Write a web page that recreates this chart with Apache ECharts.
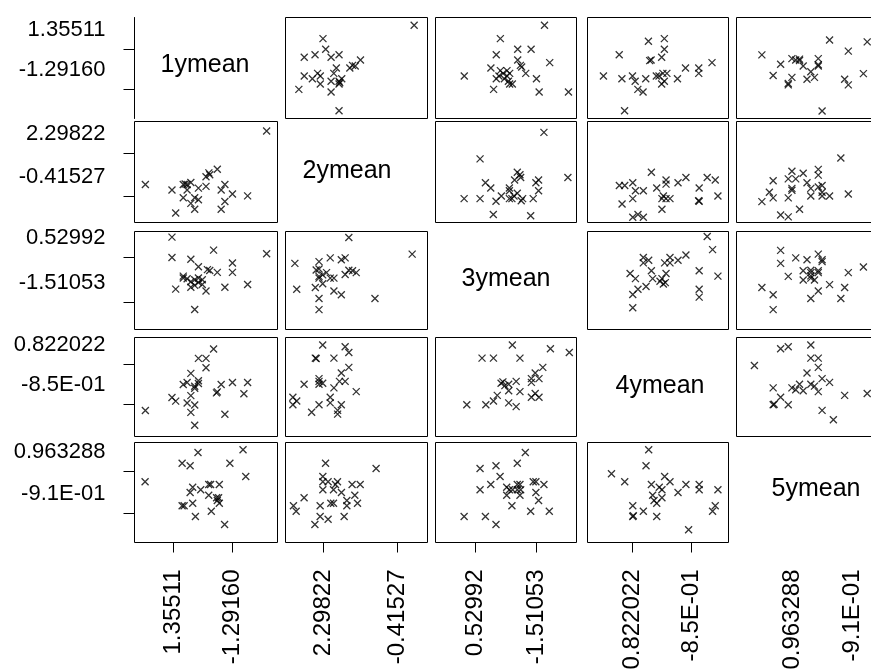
<!DOCTYPE html>
<html>
<head>
<meta charset="utf-8">
<title>Scatterplot matrix of 1ymean - 5ymean</title>
<script src="https://cdn.jsdelivr.net/npm/echarts@6/dist/echarts.min.js"></script>
<style>
  html, body { margin: 0; padding: 0; background: #ffffff; }
  #chart { width: 871px; height: 670px; }
</style>
</head>
<body>
<div id="chart"></div>
<script>
// Variables shown on the diagonal
const variables = ['1ymean', '2ymean', '3ymean', '4ymean', '5ymean'];

// Tick labels of each variable (first tick, second tick)
const tickLabels = [
  ['1.35511', '-1.29160'],
  ['2.29822', '-0.41527'],
  ['0.52992', '-1.51053'],
  ['0.822022', '-8.5E-01'],
  ['0.963288', '-9.1E-01']
];

// Tick values on each variable's axis scale (0-100), horizontal and vertical use
const xTickValues = [[27.3, 68.5], [26.8, 78.9], [28.2, 71.6], [31.9, 73.8], [39.7, 82.3]];
const yTickValues = [[68.3, 28.7], [68.3, 25.7], [73.5, 27.6], [72.7, 32.3], [71.0, 29.0]];

// Paired observations: [value of lower-numbered variable, value of higher-numbered variable]
const y1y2 = [[92.4,90.6],[79.1,26.4],[68.5,28.3],[60.6,13.2],[63.2,20.8],[60.6,32.1],[63.2,37.7],[50.0,35.8],
  [44.7,34.0],[36.8,32.1],[36.8,37.7],[39.4,39.6],[34.1,37.7],[50.0,45.3],[52.6,47.2],[52.0,49.1],[57.9,52.8],
  [42.1,13.2],[39.4,18.9],[44.7,22.6],[42.1,24.5],[34.1,24.5],[28.8,9.4],[26.2,32.1],[7.6,37.7],[35.4,38.2]];
const y1y3 = [[92.4,77.3],[79.1,46.0],[68.5,58.3],[68.5,67.8],[63.2,43.1],[57.9,58.3],[52.6,60.2],[51.0,61.1],
  [55.3,81.0],[44.7,64.0],[50.0,39.3],[42.1,20.4],[47.4,46.0],[44.7,47.9],[47.4,50.7],[44.7,52.6],[42.1,45.0],
  [39.4,43.1],[39.4,48.8],[42.1,50.7],[34.1,52.6],[34.1,54.5],[36.8,51.7],[39.4,71.6],[28.8,41.2],[26.2,73.5],[26.2,94.3]];
const y1y4 = [[76.5,43.2],[79.1,54.5],[68.5,54.5],[63.2,22.5],[57.9,45.1],[57.3,44.1],[60.6,52.6],[42.1,11.3],
  [39.4,24.4],[42.1,31.9],[36.8,33.8],[39.4,41.3],[28.8,35.7],[26.2,39.4],[42.1,48.8],[42.1,50.7],[44.7,53.5],
  [44.7,56.3],[34.1,52.6],[36.8,54.5],[39.4,63.8],[50.0,69.5],[50.0,78.9],[44.7,78.9],[55.3,88.3],[7.6,26.3]];
const y1y5 = [[44.4,90.0],[75.9,92.7],[33.3,79.3],[38.9,76.7],[66.7,79.3],[77.8,66.0],[7.4,60.7],[40.7,55.3],
  [38.9,50.0],[46.3,52.7],[51.9,58.0],[53.2,58.0],[59.3,58.0],[51.9,47.3],[57.4,44.7],[58.8,44.7],[57.9,42.0],
  [59.3,39.3],[33.3,36.7],[34.7,36.7],[40.7,39.3],[42.6,26.0],[53.7,31.3],[63.0,18.0]];
const y2y3 = [[89.2,76.9],[63.0,31.6],[39.3,35.4],[34.1,39.2],[49.8,58.0],[47.2,59.9],[44.6,60.4],[42.0,56.1],
  [42.0,73.1],[39.3,71.2],[31.5,73.1],[44.6,93.9],[23.6,20.3],[23.6,31.6],[21.0,42.9],[26.2,46.7],[34.1,52.4],
  [31.5,52.4],[23.6,52.4],[23.6,54.2],[26.2,55.7],[28.9,58.0],[23.6,61.8],[21.6,60.8],[23.6,69.3],[7.9,41.0],[6.6,67.5]];
const y2y4 = [[49.8,45.3],[42.0,55.7],[38.0,55.7],[44.6,69.8],[39.3,64.2],[44.6,84.9],[42.0,90.6],[34.1,79.2],
  [26.2,92.5],[21.0,79.2],[21.6,78.8],[36.7,22.6],[36.7,26.4],[39.3,32.1],[31.5,34.0],[31.5,39.6],[34.1,49.1],
  [23.6,32.1],[18.4,24.5],[26.2,53.8],[23.6,55.7],[23.6,58.5],[23.6,52.8],[13.1,52.8],[5.2,32.1],[7.9,35.8],[5.2,39.6]];
const y2y5 = [[28.2,79.3],[63.8,74.0],[26.3,66.0],[26.3,60.7],[30.0,60.7],[36.6,60.7],[35.2,58.0],[46.9,58.0],
  [52.6,58.0],[26.3,52.7],[33.8,52.7],[39.4,50.0],[48.8,47.3],[13.1,44.7],[43.2,42.0],[43.2,36.7],[50.7,39.3],
  [31.9,39.3],[33.8,39.3],[5.6,36.7],[7.5,31.3],[24.4,36.7],[24.4,26.0],[30.0,23.3],[41.3,26.0],[20.7,18.0]];
const y3y4 = [[94.9,84.9],[81.5,88.7],[73.4,39.6],[68.0,39.6],[70.7,43.4],[73.4,58.5],[68.0,58.5],[68.0,54.7],
  [70.7,64.2],[76.1,69.8],[57.2,30.2],[51.9,34.0],[59.9,45.3],[51.9,46.2],[51.9,52.8],[57.2,55.7],[49.2,51.4],
  [46.5,53.8],[47.8,55.2],[59.9,79.2],[54.5,92.5],[41.1,79.2],[33.0,79.2],[43.8,41.5],[41.1,35.8],[35.7,32.1],[22.2,32.1]];
const y3y5 = [[63.7,90.0],[31.6,74.0],[42.9,76.7],[58.0,79.3],[45.8,66.0],[39.2,58.0],[31.6,52.7],[50.5,55.3],
  [50.5,47.3],[52.4,52.7],[54.7,52.7],[58.0,58.0],[59.9,58.0],[58.0,52.7],[59.9,47.3],[60.4,52.7],[69.3,60.7],
  [71.2,60.7],[76.9,58.0],[71.2,50.0],[73.1,42.0],[54.2,36.7],[67.5,31.3],[80.7,31.3],[20.3,26.0],[35.4,26.0],[42.9,18.0]];
const y4y5 = [[43.4,92.7],[41.5,76.7],[17.0,68.7],[26.4,60.7],[54.7,66.0],[58.5,60.7],[45.3,58.0],[50.9,55.3],
  [52.8,52.7],[69.8,58.0],[79.2,58.0],[79.2,52.7],[92.5,52.7],[64.2,50.0],[46.2,47.3],[47.2,42.0],[52.8,44.7],
  [49.1,39.3],[32.1,36.7],[39.6,31.3],[32.1,26.0],[32.5,26.7],[49.1,26.0],[90.6,36.7],[88.7,31.3],[71.7,12.7]];

const pairTable = {
  '0-1': y1y2, '0-2': y1y3, '0-3': y1y4, '0-4': y1y5,
  '1-2': y2y3, '1-3': y2y4, '1-4': y2y5,
  '2-3': y3y4, '2-4': y3y5,
  '3-4': y4y5
};

// Cell layout (pixels); half-pixel offsets keep the 1px frames crisp
const colLeft = [134.5, 285.5, 435.5, 587.5, 736.5];
const colWidth = [143, 142, 141, 141, 141];
const rowTop = [17.5, 121.5, 231.5, 337.5, 442.5];
const rowHeight = [101, 101, 98, 99, 100];
const diagLabelPos = [[205, 65], [347, 171], [506, 279], [660, 386], [816, 489]];

const FONT = '"Liberation Sans", Arial, Helvetica, sans-serif';
const crossSymbol = 'path://M0,0L10,10M10,0L0,10';

// Points of the panel in row r (y variable) and column c (x variable)
function panelPoints(r, c) {
  const lo = Math.min(r, c), hi = Math.max(r, c);
  const list = pairTable[lo + '-' + hi];
  return list.map(p => (r < c ? [p[1], p[0]] : [p[0], p[1]]));
}

function labelFor(values, labels) {
  return function (v) {
    let best = 0;
    for (let i = 1; i < values.length; i++) {
      if (Math.abs(values[i] - v) < Math.abs(values[best] - v)) best = i;
    }
    return labels[best];
  };
}

const grids = [], xAxes = [], yAxes = [], series = [];
const n = variables.length;

for (let r = 0; r < n; r++) {
  for (let c = 0; c < n; c++) {
    const g = grids.length;
    const diag = r === c;
    grids.push({
      left: colLeft[c], top: rowTop[r], width: colWidth[c], height: rowHeight[r],
      show: !diag, borderColor: '#000', borderWidth: 1, backgroundColor: 'transparent',
      containLabel: false, outerBoundsMode: 'none'
    });

    const bottomRow = r === n - 1;
    const showXTicks = bottomRow && c < n - 1;
    xAxes.push({
      gridIndex: g, type: 'value', min: 0, max: 100,
      splitLine: { show: false },
      axisLine: { show: false },
      axisTick: {
        show: showXTicks, length: 10, inside: false,
        customValues: xTickValues[c],
        lineStyle: { color: '#000', width: 1 }
      },
      axisLabel: {
        show: bottomRow, customValues: xTickValues[c],
        rotate: 90, margin: 27, color: '#000', fontSize: 24, fontFamily: FONT,
        formatter: labelFor(xTickValues[c], tickLabels[c])
      }
    });

    const leftCol = c === 0;
    yAxes.push({
      gridIndex: g, type: 'value', min: 0, max: 100,
      splitLine: { show: false },
      axisLine: { show: leftCol && diag, lineStyle: { color: '#000', width: 1 } },
      axisTick: {
        show: leftCol, length: 11, inside: false,
        customValues: yTickValues[r],
        lineStyle: { color: '#000', width: 1 }
      },
      axisLabel: {
        show: leftCol, customValues: yTickValues[r],
        margin: 29, color: '#000', fontSize: 22, fontFamily: FONT,
        verticalAlign: 'bottom', padding: [0, 0, 9, 0],
        formatter: labelFor(yTickValues[r], tickLabels[r])
      }
    });

    if (!diag) {
      series.push({
        type: 'scatter',
        name: variables[r] + ' vs ' + variables[c],
        xAxisIndex: g, yAxisIndex: g,
        data: panelPoints(r, c),
        symbol: crossSymbol,
        symbolSize: 7,
        itemStyle: { color: 'rgba(0,0,0,0)', borderColor: '#000', borderWidth: 1.3 },
        emphasis: { disabled: true },
        clip: true,
        silent: true
      });
    }
  }
}

const chart = echarts.init(document.getElementById('chart'), null, { renderer: 'canvas' });
chart.setOption({
  animation: false,
  backgroundColor: '#ffffff',
  grid: grids,
  xAxis: xAxes,
  yAxis: yAxes,
  series: series,
  graphic: variables.map((name, i) => ({
    type: 'text',
    x: diagLabelPos[i][0],
    y: diagLabelPos[i][1],
    style: {
      text: name,
      font: '25px ' + FONT,
      fill: '#000',
      align: 'center', verticalAlign: 'middle',
      textAlign: 'center', textVerticalAlign: 'middle'
    }
  }))
});
</script>
</body>
</html>
